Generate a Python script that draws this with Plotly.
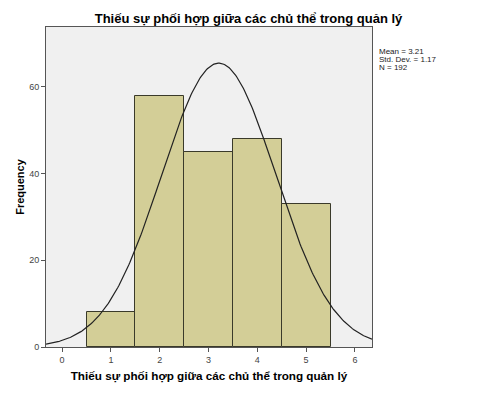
import numpy as np
import plotly.graph_objects as go

categories = [1, 2, 3, 4, 5]
frequencies = [8, 58, 45, 48, 33]
mean_val = 3.21
std_val = 1.17
n_val = 192
title = "Thiếu sự phối hợp giữa các chủ thể trong quản lý"
stats_lines = ["Mean = 3.21", "Std. Dev. = 1.17", "N = 192"]

fig = go.Figure()
fig.add_trace(go.Bar(
    x=categories, y=frequencies, width=1.0,
    marker=dict(color="#d3ce97", line=dict(color="#3a3a2a", width=1)),
    showlegend=False, hoverinfo="skip"))

xs = np.linspace(-0.33, 6.35, 300)
ys = n_val * 1.0 / (std_val * np.sqrt(2 * np.pi)) * np.exp(-0.5 * ((xs - mean_val) / std_val) ** 2)
fig.add_trace(go.Scatter(x=xs, y=ys, mode="lines",
                         line=dict(color="#222222", width=1.2),
                         showlegend=False, hoverinfo="skip"))

annots = []
for i, line in enumerate(stats_lines):
    ypix = 51.5 + 8 * i
    annots.append(dict(
        text=line, xref="paper", yref="paper", x=1.015,
        y=(347 - ypix) / 320, xanchor="left", yanchor="middle",
        align="left", showarrow=False,
        font=dict(size=8, color="#222222")))

fig.update_layout(
    width=497, height=394,
    margin=dict(l=46, r=125, t=27, b=47),
    paper_bgcolor="white", plot_bgcolor="#f0f0f0",
    font=dict(family="Liberation Sans, Arial", color="#000000"),
    title=dict(text="<b>" + title + "</b>", x=0.5, xanchor="center",
               y=1 - 18 / 394, yanchor="middle", font=dict(size=13)),
    bargap=0,
    annotations=annots,
)
fig.update_xaxes(range=[-0.33, 6.35], tickvals=[0, 1, 2, 3, 4, 5, 6],
                 ticks="outside", ticklen=4, tickcolor="#555555",
                 tickfont=dict(size=9, color="#444444"),
                 showgrid=False, zeroline=False,
                 showline=True, linecolor="#555555", mirror=True,
                 title=dict(text="<b>" + title + "</b>", font=dict(size=11.7), standoff=8))
fig.update_yaxes(range=[0, 73.8], tickvals=[0, 20, 40, 60],
                 ticks="outside", ticklen=4, tickcolor="#555555",
                 tickfont=dict(size=9, color="#444444"),
                 showgrid=False, zeroline=False,
                 showline=True, linecolor="#555555", mirror=True,
                 title=dict(text="<b>Frequency</b>", font=dict(size=11), standoff=2))

fig.write_html("out.html")
